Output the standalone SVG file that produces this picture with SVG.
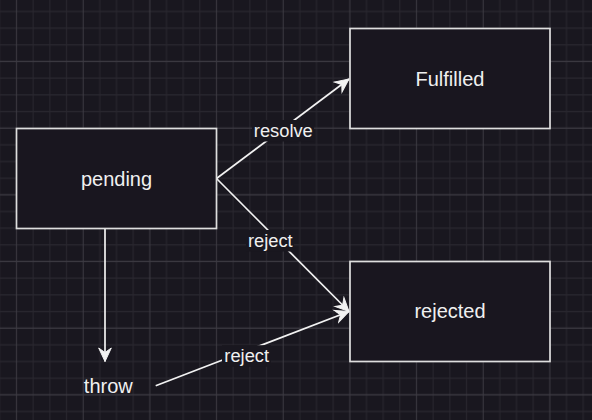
<svg xmlns="http://www.w3.org/2000/svg" width="592" height="420" viewBox="0 0 592 420">
  <defs>
    <pattern id="grid" x="8.17" y="53.17" width="66.667" height="66.667" patternUnits="userSpaceOnUse">
      <path d="M25 0V66.667M41.667 0V66.667M58.333 0V66.667M0 25H66.667M0 41.667H66.667M0 58.333H66.667" stroke="#29272f" stroke-width="1" fill="none"/>
      <path d="M8.333 0V66.667M0 8.333H66.667" stroke="#3d3b43" stroke-width="1" fill="none"/>
    </pattern>
    <marker id="arrow" markerUnits="userSpaceOnUse" viewBox="-15 -8 16 16" refX="0" refY="0" markerWidth="16" markerHeight="16" orient="auto">
      <path d="M0,0 L-13.5,-6.3 L-9,0 L-13.5,6.3 Z" fill="#f2f2f2" stroke="#f2f2f2" stroke-width="1" stroke-linejoin="miter"/>
    </marker>
    <style>
      .node rect { fill: #19161f; stroke: #dedede; stroke-width: 1.7; }
      .node text { font-family: "Liberation Sans", Arial, Helvetica, sans-serif; font-size: 20px; fill: #f0f0f0; text-anchor: middle; }
      .edge { fill: none; stroke: #f2f2f2; stroke-width: 1.7; marker-end: url(#arrow); }
      .lbl rect { fill: #19171f; }
      .lbl text { font-family: "Liberation Sans", Arial, Helvetica, sans-serif; font-size: 18.3px; fill: #f0f0f0; text-anchor: middle; }
    </style>
  </defs>
  <rect x="0" y="0" width="592" height="420" fill="#19171f"/>
  <rect x="0" y="0" width="592" height="420" fill="url(#grid)"/>

  <g id="connectors">
    <line class="edge" x1="216.5" y1="178.5" x2="349" y2="79"/>
    <line class="edge" x1="216.5" y1="178.5" x2="349" y2="311.5"/>
    <line class="edge" x1="105" y1="229" x2="105" y2="361.5"/>
    <line class="edge" x1="155.7" y1="385.7" x2="349" y2="311.5"/>
    <g class="lbl">
      <rect x="252" y="120" width="62" height="21.5"/>
      <text x="283.3" y="136.7">resolve</text>
    </g>
    <g class="lbl">
      <rect x="246" y="230" width="48" height="21.5"/>
      <text x="270.3" y="246.5">reject</text>
    </g>
    <g class="lbl">
      <rect x="222" y="345.2" width="49" height="21.5"/>
      <text x="246.7" y="361.7">reject</text>
    </g>
  </g>

  <g id="pending" class="node">
    <rect x="16.5" y="128.5" width="200" height="100"/>
    <text x="116.5" y="185.5">pending</text>
  </g>
  <g id="fulfilled" class="node">
    <rect x="350" y="28.5" width="200" height="100"/>
    <text x="450" y="85.5">Fulfilled</text>
  </g>
  <g id="rejected" class="node">
    <rect x="350" y="261.5" width="200" height="100"/>
    <text x="450" y="318.3">rejected</text>
  </g>
  <g id="throw" class="node">
    <text x="108.3" y="393">throw</text>
  </g>
</svg>
